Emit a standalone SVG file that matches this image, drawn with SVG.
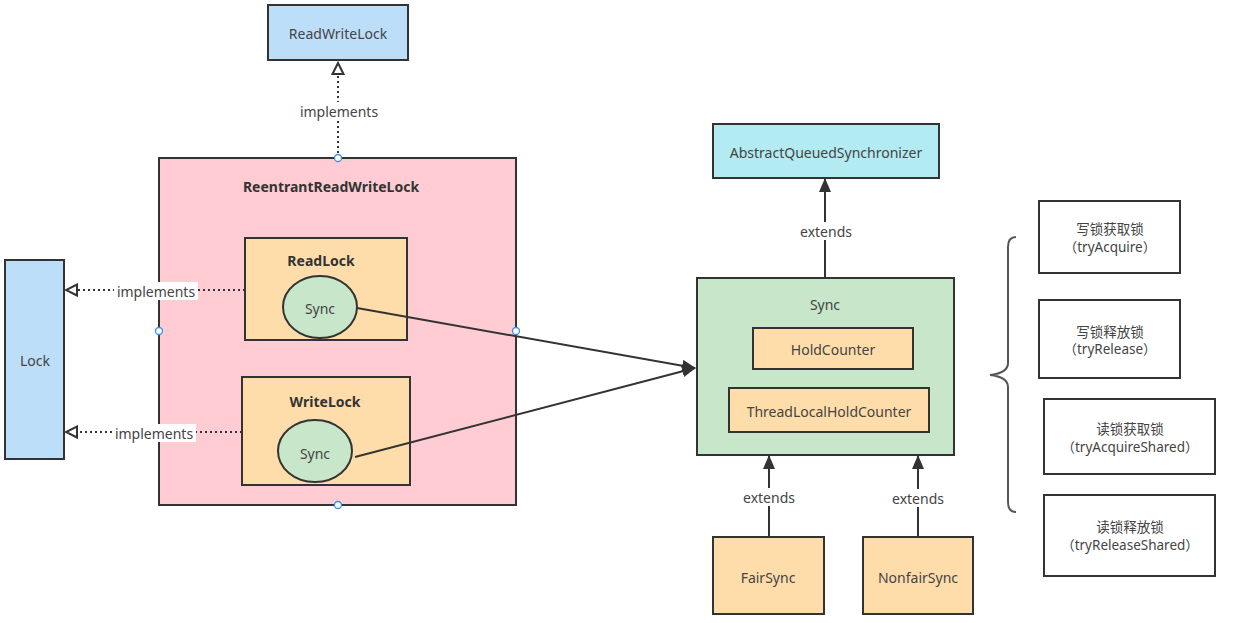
<svg xmlns="http://www.w3.org/2000/svg" width="1236" height="623" viewBox="0 0 1236 623">
<defs>
<style>
.box{stroke:#333;stroke-width:2}
.t{font-family:"Noto Sans","Liberation Sans",sans-serif;font-size:14px;fill:#444;text-anchor:middle;dominant-baseline:central}
.tc{font-family:"Noto Sans","Noto Sans CJK SC",sans-serif;font-size:13.5px;fill:#444;text-anchor:middle;dominant-baseline:central}
.b{font-weight:bold;fill:#333}
.dot{stroke:#333;stroke-width:2;stroke-dasharray:2 3;fill:none}
.sol{stroke:#333;stroke-width:2;fill:none}
.lbl{fill:#fff}
.h{fill:#fff;stroke:#3a8ee6;stroke-width:1.3}
</style>
<marker id="hollow" viewBox="0 0 14 14" refX="12" refY="7" markerWidth="14" markerHeight="14" markerUnits="userSpaceOnUse" orient="auto">
<path d="M1,1.5 L12,7 L1,12.5 Z" fill="#fff" stroke="#333" stroke-width="2"/>
</marker>
<marker id="filled" viewBox="0 0 14 12" refX="13" refY="6" markerWidth="14" markerHeight="12" markerUnits="userSpaceOnUse" orient="auto">
<path d="M0,0 L14,6 L0,12 Z" fill="#333"/>
</marker>
</defs>
<rect width="1236" height="623" fill="#fff"/>

<g id="ReadWriteLock"><rect class="box" x="268" y="5" width="140" height="55" fill="#BDDEF9"/><text class="t" x="338" y="33">ReadWriteLock</text></g>
<g id="RRWL"><rect class="box" x="159" y="158" width="357" height="347" fill="#FFCCD3"/><text class="t b" x="331" y="186">ReentrantReadWriteLock</text></g>
<g id="Lock"><rect class="box" x="5" y="260" width="59" height="199" fill="#BDDEF9"/><text class="t" x="35" y="360">Lock</text></g>
<g id="ReadLock"><rect class="box" x="245" y="238" width="162" height="102" fill="#FFDDAA"/><text class="t b" x="321" y="260">ReadLock</text></g>
<g id="ReadSync"><ellipse class="box" cx="320" cy="307" rx="37" ry="31" fill="#C8E6C9"/><text class="t" x="320" y="308">Sync</text></g>
<g id="WriteLock"><rect class="box" x="242" y="377" width="168" height="108" fill="#FFDDAA"/><text class="t b" x="325" y="401">WriteLock</text></g>
<g id="WriteSync"><ellipse class="box" cx="315" cy="451" rx="37" ry="31" fill="#C8E6C9"/><text class="t" x="315" y="453">Sync</text></g>
<g id="AQS"><rect class="box" x="713" y="124" width="226" height="54" fill="#B2EBF2"/><text class="t" x="826" y="152">AbstractQueuedSynchronizer</text></g>
<g id="Sync"><rect class="box" x="697" y="278" width="257" height="177" fill="#C8E6C9"/><text class="t" x="825" y="304">Sync</text></g>
<g id="HoldCounter"><rect class="box" x="753" y="328" width="160" height="41" fill="#FFDDAA"/><text class="t" x="833" y="349">HoldCounter</text></g>
<g id="TLHC"><rect class="box" x="729" y="388" width="200" height="44" fill="#FFDDAA"/><text class="t" x="829" y="411">ThreadLocalHoldCounter</text></g>
<g id="FairSync"><rect class="box" x="713" y="537" width="111" height="77" fill="#FFDDAA"/><text class="t" x="768" y="577">FairSync</text></g>
<g id="NonfairSync"><rect class="box" x="863" y="537" width="110" height="77" fill="#FFDDAA"/><text class="t" x="918" y="577">NonfairSync</text></g>

<g id="m1"><rect class="box" x="1039" y="201" width="141" height="72" fill="#fff"/><text class="tc" x="1110" y="229">写锁获取锁</text><text class="tc" x="1110" y="247">（tryAcquire）</text></g>
<g id="m2"><rect class="box" x="1039" y="300" width="141" height="78" fill="#fff"/><text class="tc" x="1110" y="332">写锁释放锁</text><text class="tc" x="1110" y="349">（tryRelease）</text></g>
<g id="m3"><rect class="box" x="1044" y="399" width="171" height="75" fill="#fff"/><text class="tc" x="1130" y="429">读锁获取锁</text><text class="tc" x="1130" y="447">（tryAcquireShared）</text></g>
<g id="m4"><rect class="box" x="1044" y="495" width="171" height="81" fill="#fff"/><text class="tc" x="1130" y="527">读锁释放锁</text><text class="tc" x="1130" y="545">（tryReleaseShared）</text></g>
<g id="brace"><path d="M1016,237 Q1008,237 1008,247 L1008,363 Q1008,373 990,375 Q1008,377 1008,387 L1008,502 Q1008,512 1016,512" fill="none" stroke="#555" stroke-width="2"/></g>

<g id="connectors">
<line class="dot" x1="338" y1="158" x2="338" y2="63" marker-end="url(#hollow)"/>
<rect class="lbl" x="296" y="102" width="86" height="18"/><text class="t" x="339" y="111">implements</text>
<line class="dot" x1="245" y1="290" x2="66" y2="290" marker-end="url(#hollow)"/>
<rect class="lbl" x="114" y="282" width="84" height="18"/><text class="t" x="156" y="291">implements</text>
<line class="dot" x1="242" y1="432" x2="66" y2="432" marker-end="url(#hollow)"/>
<rect class="lbl" x="112" y="424" width="84" height="18"/><text class="t" x="154" y="433">implements</text>
<line class="sol" x1="357" y1="308" x2="695" y2="368" marker-end="url(#filled)"/>
<line class="sol" x1="355" y1="457" x2="695" y2="368" marker-end="url(#filled)"/>
<line class="sol" x1="825" y1="278" x2="825" y2="179" marker-end="url(#filled)"/>
<rect class="lbl" x="796" y="222" width="60" height="18"/><text class="t" x="826" y="231">extends</text>
<line class="sol" x1="769" y1="537" x2="769" y2="456" marker-end="url(#filled)"/>
<rect class="lbl" x="739" y="488" width="60" height="18"/><text class="t" x="769" y="497">extends</text>
<line class="sol" x1="918" y1="537" x2="918" y2="456" marker-end="url(#filled)"/>
<rect class="lbl" x="888" y="489" width="60" height="18"/><text class="t" x="918" y="498">extends</text>
</g>
<g id="handles">
<circle class="h" cx="338" cy="158" r="3.5"/><circle class="h" cx="159" cy="331" r="3.5"/><circle class="h" cx="516" cy="331" r="3.5"/><circle class="h" cx="338" cy="505" r="3.5"/>
</g>
</svg>
